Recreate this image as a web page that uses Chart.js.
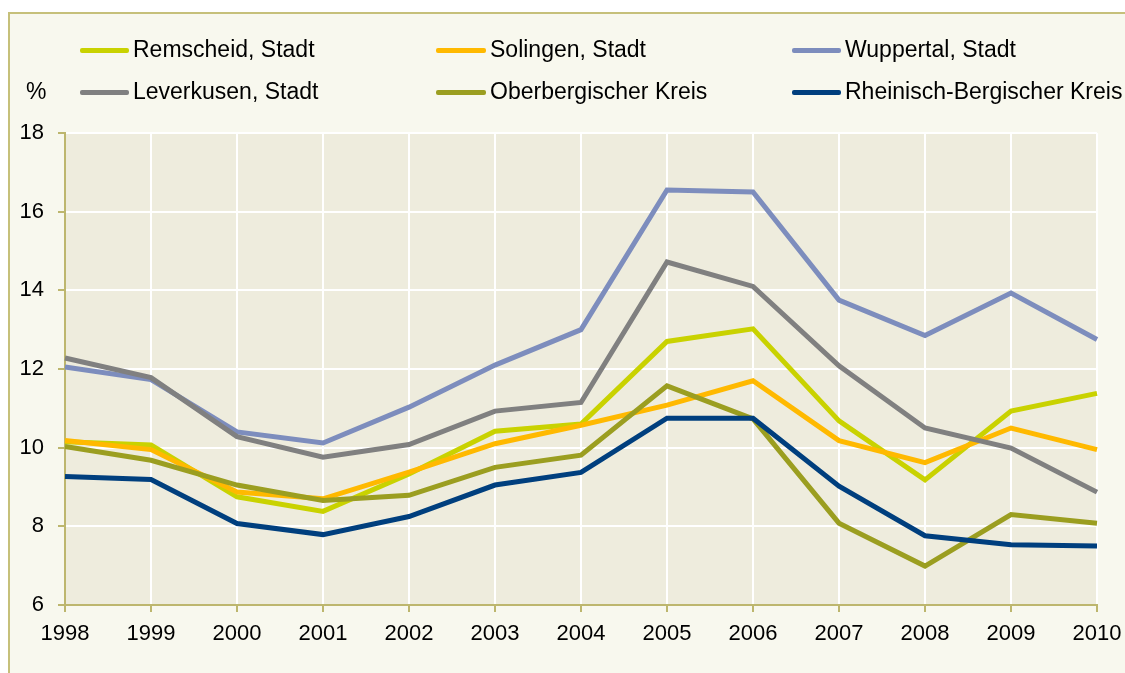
<!DOCTYPE html>
<html>
<head>
<meta charset="utf-8">
<script src="https://cdn.jsdelivr.net/npm/chart.js@4/dist/chart.umd.min.js"></script>
<style>
  html, body { margin: 0; background: #ffffff; font-family: "Liberation Sans", Arial, sans-serif; overflow: hidden;
               width: 1125px; height: 673px; }
  #frame { position: fixed; left: 8px; top: 12px; right: 0; bottom: 0;
           border-style: solid; border-color: #c6c07a; border-width: 2px 0 0 2px; background: #f8f8ee; }
  #wrap { position: absolute; left: 0; top: 0; width: 1125px; height: 673px; }
  .lg { position: absolute; font-size: 23px; color: #000; line-height: 26px; white-space: nowrap; }
  .sw { position: absolute; height: 5px; border-radius: 2px; }
  #unit { position: absolute; left: 26px; top: 78px; font-size: 23px; }
</style>
</head>
<body>
<div id="frame"></div>
<div id="unit">%</div>
<div id="legend"></div>
<div id="wrap"><canvas id="chart" width="1125" height="673"></canvas></div>
<script>
// === DATA ===
const years = ['1998', '1999', '2000', '2001', '2002', '2003', '2004', '2005', '2006', '2007', '2008', '2009', '2010'];
const seriesNames = ['Remscheid, Stadt', 'Solingen, Stadt', 'Wuppertal, Stadt',
                     'Leverkusen, Stadt', 'Oberbergischer Kreis', 'Rheinisch-Bergischer Kreis'];
const remscheid    = [10.15, 10.07, 8.75, 8.38, 9.33, 10.42, 10.6, 12.7, 13.02, 10.68, 9.18, 10.93, 11.38];
const solingen     = [10.18, 9.95, 8.87, 8.7, 9.38, 10.1, 10.57, 11.08, 11.7, 10.18, 9.62, 10.5, 9.95];
const wuppertal    = [12.05, 11.73, 10.4, 10.12, 11.03, 12.1, 13.0, 16.55, 16.5, 13.75, 12.85, 13.93, 12.75];
const leverkusen   = [12.28, 11.78, 10.28, 9.76, 10.08, 10.93, 11.15, 14.72, 14.1, 12.08, 10.5, 9.99, 8.87];
const oberberg     = [10.03, 9.68, 9.05, 8.66, 8.79, 9.5, 9.81, 11.57, 10.73, 8.08, 6.99, 8.3, 8.08];
const rheinBerg    = [9.27, 9.19, 8.07, 7.79, 8.25, 9.05, 9.37, 10.75, 10.75, 9.02, 7.76, 7.53, 7.5];
const yTicks = [6, 8, 10, 12, 14, 16, 18];

const seriesData = [remscheid, solingen, wuppertal, leverkusen, oberberg, rheinBerg];
const colors = ['#c9d200', '#ffb900', '#7d8dbd', '#808080', '#9b9e20', '#003f7e'];

// === LEGEND (3 columns x 2 rows) ===
const legendCols = [{ line: 80, text: 133 }, { line: 436, text: 490 }, { line: 792, text: 845 }];
const legendRows = [50, 92];
const legendEl = document.getElementById('legend');
seriesNames.forEach(function(name, i) {
    const col = legendCols[i % 3];
    const rowY = legendRows[Math.floor(i / 3)];
    const sw = document.createElement('div');
    sw.className = 'sw';
    sw.style.left = col.line + 'px';
    sw.style.width = (col.text - col.line - 4) + 'px';
    sw.style.top = (rowY - 2) + 'px';
    sw.style.background = colors[i];
    legendEl.appendChild(sw);
    const tx = document.createElement('div');
    tx.className = 'lg';
    tx.style.left = col.text + 'px';
    tx.style.top = (rowY - 14) + 'px';
    tx.textContent = name;
    legendEl.appendChild(tx);
});

// === CHART ===
const plotBackground = {
    id: 'plotBackground',
    beforeDraw: function(chart) {
        const a = chart.chartArea;
        const ctx = chart.ctx;
        ctx.save();
        ctx.fillStyle = '#eeecdd';
        ctx.fillRect(a.left, a.top, a.right - a.left, a.bottom - a.top);
        ctx.restore();
    }
};

const axisColor = '#bdb66e';

new Chart(document.getElementById('chart').getContext('2d'), {
    type: 'line',
    data: {
        labels: years,
        datasets: seriesData.map(function(d, i) {
            return {
                label: seriesNames[i],
                data: d,
                borderColor: colors[i],
                backgroundColor: colors[i],
                borderWidth: 5,
                pointRadius: 0,
                tension: 0,
                order: 10 - i
            };
        })
    },
    options: {
        responsive: false,
        animation: false,
        layout: { padding: { left: 0, top: 133, right: 28, bottom: 0 } },
        plugins: { legend: { display: false }, tooltip: { enabled: false } },
        scales: {
            x: {
                offset: false,
                afterFit: function(s) {
                    s.height = 68;
                    s.paddingLeft = 0;
                    s.paddingRight = 0;
                },
                grid: { color: '#ffffff', lineWidth: 2, tickColor: axisColor, tickLength: 7 },
                border: { color: axisColor, width: 2 },
                ticks: { color: '#000', padding: 9, maxRotation: 0, autoSkip: false,
                         font: { family: '"Liberation Sans", Arial, sans-serif', size: 22 } }
            },
            y: {
                min: yTicks[0],
                max: yTicks[yTicks.length - 1],
                afterFit: function(s) {
                    s.width = 65;
                    s.paddingTop = 0;
                    s.paddingBottom = 0;
                },
                afterBuildTicks: function(s) { s.ticks = yTicks.map(function(v) { return { value: v }; }); },
                grid: { color: '#ffffff', lineWidth: 2, tickColor: axisColor, tickLength: 7 },
                border: { color: axisColor, width: 2 },
                ticks: { color: '#000', padding: 14,
                         font: { family: '"Liberation Sans", Arial, sans-serif', size: 22 } }
            }
        }
    },
    plugins: [plotBackground]
});
</script>
</body>
</html>
